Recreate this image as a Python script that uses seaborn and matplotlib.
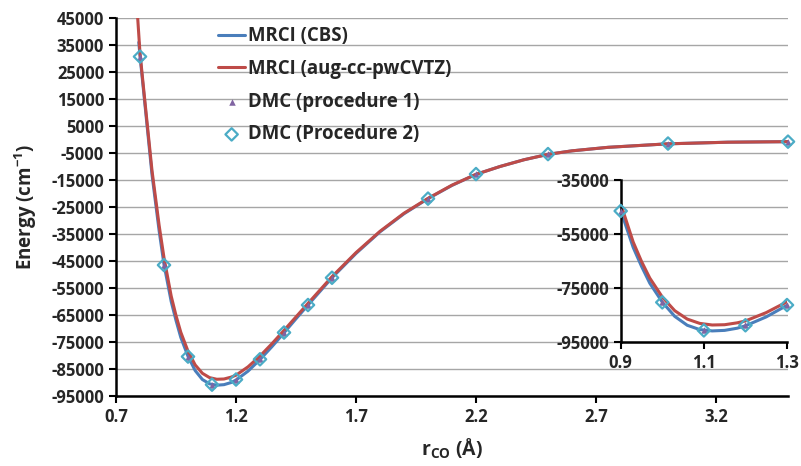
import matplotlib
matplotlib.use("Agg")
import matplotlib.pyplot as plt
import seaborn as sns
import pandas as pd

# Кривые MRCI
r_cbs = [0.795, 0.80, 0.82, 0.85, 0.88, 0.90, 0.93, 0.95, 0.97, 1.00, 1.03, 1.06,
         1.09, 1.12, 1.15, 1.18, 1.20, 1.25, 1.30, 1.35, 1.40, 1.45, 1.50, 1.60,
         1.70, 1.80, 1.90, 2.00, 2.10, 2.20, 2.30, 2.40, 2.50, 2.60, 2.75, 3.00,
         3.25, 3.50]
e_cbs = [36000, 31000, 13500, -13000, -34000, -46300, -60000, -67000, -73300,
         -80300, -85600, -88900, -90500, -91000, -90800, -90000, -89100, -85800,
         -81500, -76700, -71600, -66400, -61300, -51200, -42200, -34200, -27500,
         -21900, -17000, -12900, -10000, -7500, -5500, -4200, -2900, -1600,
         -1000, -800]

r_tz = [0.785, 0.79, 0.80, 0.82, 0.85, 0.88, 0.90, 0.93, 0.95, 0.97, 1.00, 1.03,
        1.06, 1.09, 1.12, 1.15, 1.18, 1.20, 1.25, 1.30, 1.35, 1.40, 1.45, 1.50,
        1.60, 1.70, 1.80, 1.90, 2.00, 2.10, 2.20, 2.30, 2.40, 2.50, 2.60, 2.75,
        3.00, 3.25, 3.50]
e_tz = [52000, 45500, 32000, 14500, -11500, -32000, -43800, -58000, -65200,
        -71400, -78400, -83500, -86600, -88200, -88800, -88700, -88000, -87300,
        -84200, -80200, -75600, -70700, -65700, -60700, -50800, -41900, -34000,
        -27300, -21800, -16900, -12900, -10000, -7500, -5500, -4200, -2900,
        -1600, -1000, -800]

# Точки DMC
r_dmc = [0.8, 0.9, 1.0, 1.1, 1.2, 1.3, 1.4, 1.5, 1.6, 2.0, 2.2, 2.5, 3.0, 3.5]
e_dmc1 = [30700, -46500, -80400, -90800, -88900, -81400, -71500, -61300,
          -51200, -21900, -12800, -5400, -1500, -800]
e_dmc2 = [30700, -46500, -80400, -90800, -88900, -81400, -71500, -61300,
          -51200, -21900, -12800, -5400, -1500, -800]

x_ticks = [0.7, 1.2, 1.7, 2.2, 2.7, 3.2]
y_ticks = list(range(45000, -95001, -10000))
inset_x_ticks = [0.9, 1.1, 1.3]
inset_y_ticks = [-35000, -55000, -75000, -95000]

blue = "#4A7EBB"
red = "#BE4B48"
purple = "#8064A2"
cyan = "#4BACC6"

FONT = "Open Sans"
sns.set_style("ticks")
plt.rcParams["font.family"] = [FONT, "DejaVu Sans"]
plt.rcParams["font.weight"] = "bold"
plt.rcParams["axes.unicode_minus"] = False
plt.rcParams["mathtext.fontset"] = "custom"
plt.rcParams["mathtext.rm"] = FONT + ":bold"
plt.rcParams["mathtext.bf"] = FONT + ":bold"
plt.rcParams["mathtext.it"] = FONT + ":bold"

cbs = pd.DataFrame({"r": r_cbs, "E": e_cbs})
tz = pd.DataFrame({"r": r_tz, "E": e_tz})
dmc = pd.DataFrame({"r": r_dmc, "E1": e_dmc1, "E2": e_dmc2})

fig = plt.figure(figsize=(8.01, 4.66), dpi=100)
ax = fig.add_axes([116 / 801, 70 / 466, 672 / 801, 378 / 466])


def draw(a, c, t, d, lbl=True):
    sns.lineplot(data=c, x="r", y="E", color=blue, lw=2.2, ax=a,
                 label="MRCI (CBS)" if lbl else None, sort=False)
    sns.lineplot(data=t, x="r", y="E", color=red, lw=2.2, ax=a,
                 label="MRCI (aug-cc-pwCVTZ)" if lbl else None, sort=False)
    sns.scatterplot(data=d, x="r", y="E1", marker="^", color=purple, s=22,
                    linewidth=0, ax=a, label="DMC (procedure 1)" if lbl else None,
                    zorder=4, clip_on=False)
    sns.scatterplot(data=d, x="r", y="E2", marker="D", facecolor="none",
                    edgecolor=cyan, linewidth=1.6, s=40, ax=a,
                    label="DMC (Procedure 2)" if lbl else None, zorder=5,
                    clip_on=False)


draw(ax, cbs, tz, dmc)
ax.set_xlim(0.7, 3.5)
ax.set_ylim(-95000, 45000)
ax.set_xticks(x_ticks)
ax.set_yticks(y_ticks)
ax.grid(axis="y", color="#A6A6A6", lw=1)
ax.set_axisbelow(True)
sns.despine(ax=ax)
for s in ["left", "bottom"]:
    ax.spines[s].set_linewidth(1.8)
    ax.spines[s].set_color("black")
ax.tick_params(axis="both", labelsize=12, width=1.5, length=5, color="black")
ax.set_xlabel(r"r$_{\mathregular{CO}}$ (Å)", fontsize=14, fontweight="bold",
              labelpad=8)
ax.set_ylabel(r"Energy (cm$^{\mathregular{-1}}$)", fontsize=13.5,
              fontweight="bold", labelpad=9)
ax.legend(loc="upper left", bbox_to_anchor=(0.152, 0.978), frameon=False,
          borderaxespad=0, borderpad=0, fontsize=13.4, handlelength=1.45,
          handletextpad=0.15, labelspacing=0.68)

# Вставка с минимумом
ins = fig.add_axes([620.7 / 801, 124.3 / 466, 166.3 / 801, 161.7 / 466])
ins.patch.set_alpha(0)
draw(ins, cbs[(cbs.r > 0.87) & (cbs.r < 1.33)], tz[(tz.r > 0.87) & (tz.r < 1.33)],
     dmc[(dmc.r >= 0.9) & (dmc.r <= 1.3)], lbl=False)
ins.set_xlim(0.9, 1.3)
ins.set_ylim(-95000, -35000)
ins.set_xticks(inset_x_ticks)
ins.set_yticks(inset_y_ticks)
ins.set_xlabel("")
ins.set_ylabel("")
sns.despine(ax=ins)
for s in ["left", "bottom"]:
    ins.spines[s].set_linewidth(1.8)
    ins.spines[s].set_color("black")
ins.tick_params(axis="both", labelsize=12, width=1.5, length=5, color="black")

fig.savefig("out.png", dpi=100)
